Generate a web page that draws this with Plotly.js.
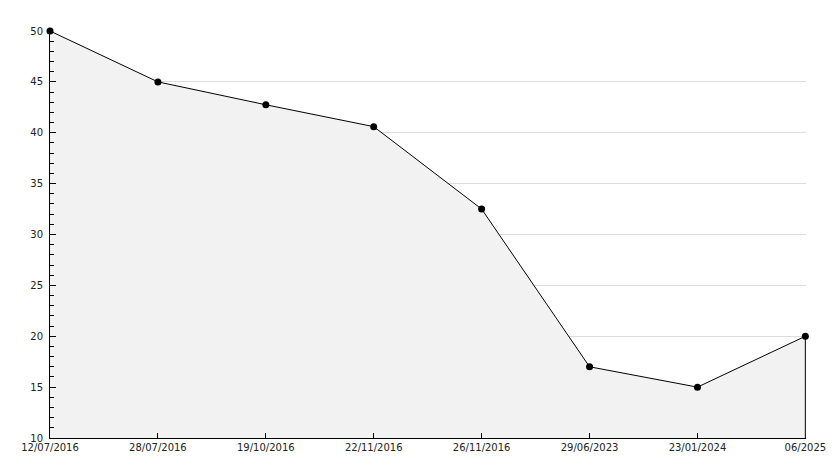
<!DOCTYPE html>
<html>
<head>
<meta charset="utf-8">
<script src="https://cdn.plot.ly/plotly-3.0.1.min.js"></script>
<style>html,body{margin:0;padding:0;background:#fff;}#chart{width:834px;height:468px;}</style>
</head>
<body>
<div id="chart"></div>
<script>
var dates = ["12/07/2016","28/07/2016","19/10/2016","22/11/2016","26/11/2016","29/06/2023","23/01/2024","06/2025"];
var values = [50, 45, 42.75, 40.6, 32.5, 17, 15, 20];
var yMin = 10, yMax = 50;

var main = {
  x: dates, y: values, type: 'scatter', mode: 'lines+markers',
  fill: 'tozeroy', fillcolor: '#f2f2f2',
  line: {color: '#000', width: 1},
  marker: {color: '#000', size: 7, symbol: 'circle'},
  hoverinfo: 'x+y', cliponaxis: false
};
var edge = {
  x: [dates[dates.length-1], dates[dates.length-1]],
  y: [values[values.length-1], yMin],
  type: 'scatter', mode: 'lines', line: {color: '#000', width: 1},
  hoverinfo: 'skip', cliponaxis: false
};
var layout = {
  width: 834, height: 468,
  margin: {l: 50, r: 28, t: 31, b: 30},
  paper_bgcolor: '#fff', plot_bgcolor: '#fff',
  showlegend: false,
  font: {family: 'DejaVu Sans, sans-serif', size: 10, color: '#222'},
  xaxis: {
    type: 'category', range: [0, dates.length-1+0.006],
    showgrid: false, zeroline: false,
    showline: true, linecolor: '#000', linewidth: 1,
    ticks: 'inside', ticklen: 5, tickcolor: '#000',
    tickfont: {size: 10, family: 'DejaVu Sans, sans-serif', color: '#222'},
    fixedrange: true
  },
  yaxis: {
    range: [yMin, yMax], dtick: 5, tick0: 0,
    showgrid: true, gridcolor: '#dddddd', gridwidth: 1,
    zeroline: false,
    showline: true, linecolor: '#000', linewidth: 1,
    ticks: 'inside', ticklen: 6, tickcolor: '#000',
    minor: {dtick: 1, ticks: 'inside', ticklen: 4, tickcolor: '#000', showgrid: false},
    tickfont: {size: 10, family: 'DejaVu Sans, sans-serif', color: '#222'},
    ticklabelstandoff: 4,
    fixedrange: true
  }
};
Plotly.newPlot('chart', [main, edge], layout, {displayModeBar: false, staticPlot: true});
</script>
</body>
</html>
